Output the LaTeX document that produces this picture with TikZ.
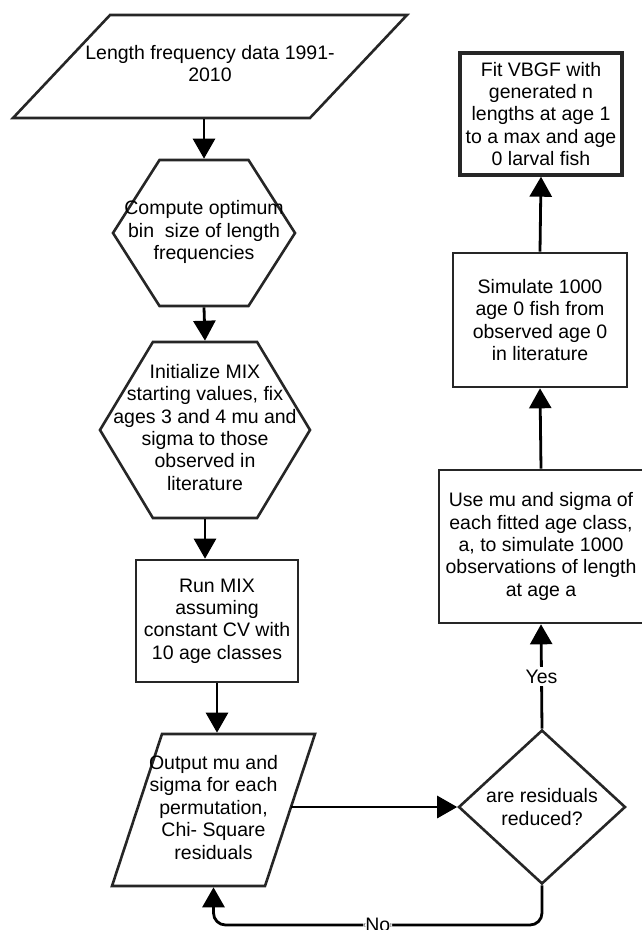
\documentclass[tikz,border=0pt]{standalone}
\usepackage{fontspec}
\setmainfont{Liberation Sans}
\usetikzlibrary{shapes.geometric,shapes.symbols,arrows.meta}

\newcommand{\flatlines}[1]{\makebox[0pt]{\raisebox{-4.9pt}[0pt][0pt]{\begin{tabular}{@{}c@{}}#1\end{tabular}}}}

\begin{document}
\begin{tikzpicture}[x=1pt,y=-1pt,
    every node/.style={font=\fontsize{19.5}{22.4}\selectfont, inner sep=0pt, align=center},
    box/.style={draw=black!85, line width=2.6pt, rectangle},
    datashape/.style={draw=black!85, line width=2.6pt, trapezium, trapezium stretches body},
    hexa/.style={draw=black!85, line width=2.6pt, signal, signal to=east and west},
    decide/.style={draw=black!85, line width=2.6pt, diamond},
    flow/.style={line width=2.8pt, -{Triangle[width=22pt,length=20pt]}}]
  \path[use as bounding box] (0,0) rectangle (641,930);

  % left column
  \node[datashape, trapezium left angle=46.7, trapezium right angle=133.3,
        inner ysep=51.5pt, minimum width=394pt] (data) at (210,66.5)
        {\flatlines{Length frequency data 1991-\\2010}};
  \node[hexa, signal pointer angle=115, minimum width=182pt, minimum height=146pt]
        (bin) at (204,233) {\flatlines{Compute optimum\\bin \ size of length\\frequencies}};
  \node[hexa, signal pointer angle=118, minimum width=210pt, minimum height=176pt]
        (init) at (205,430) {\flatlines{Initialize MIX\\starting values, fix\\ages 3 and 4 mu and\\sigma to those\\observed in\\literature}};
  \node[box, minimum width=162pt, minimum height=122pt] (mix) at (217,621)
        {Run MIX\\assuming\\constant CV with\\10 age classes};
  \node[datashape, trapezium left angle=71.8, trapezium right angle=108.2,
        inner ysep=76pt, minimum width=203pt] (out) at (213.5,810)
        {\flatlines{Output mu and\\sigma for each\\permutation,\\Chi- Square\\residuals}};

  % right column
  \node[decide, minimum width=167pt, minimum height=154pt, aspect=1.08] (red) at (542,807)
        {are residuals\\reduced?};
  \node[box, minimum width=204pt, minimum height=153pt] (use) at (541,546.5)
        {Use mu and sigma of\\each fitted age class,\\a, to simulate 1000\\observations of length\\at age a};
  \node[box, minimum width=174pt, minimum height=134pt] (sim) at (540,320)
        {Simulate 1000\\age 0 fish from\\observed age 0\\in literature};
  \node[box, line width=3.4pt, minimum width=162pt, minimum height=122pt] (fit) at (541,114)
        {Fit VBGF with\\generated n\\lengths at age 1\\to a max and age\\0 larval fish};

  \coordinate (turn) at (542,925);

  \draw[flow] (bin.north |- data.south) -- (bin.north);
  \draw[flow] (bin.south) -- (init.north);
  \draw[flow] (init.south) -- (init.south |- mix.north);
  \draw[flow] (mix.south) -- (mix.south |- out.north);
  \draw[flow] (out.east |- red.west) -- (red.west);
  \draw[flow, rounded corners=12pt] (red.south) -- (turn) -| node[pos=0.25, fill=white, inner xsep=2pt] {No} (out.south);
  \draw[flow] (red.north) -- node[fill=white, inner ysep=3pt] {Yes} (use.south);
  \draw[flow] (use.north) -- (sim.south);
  \draw[flow] (sim.north) -- (fit.south);
\end{tikzpicture}
\end{document}
